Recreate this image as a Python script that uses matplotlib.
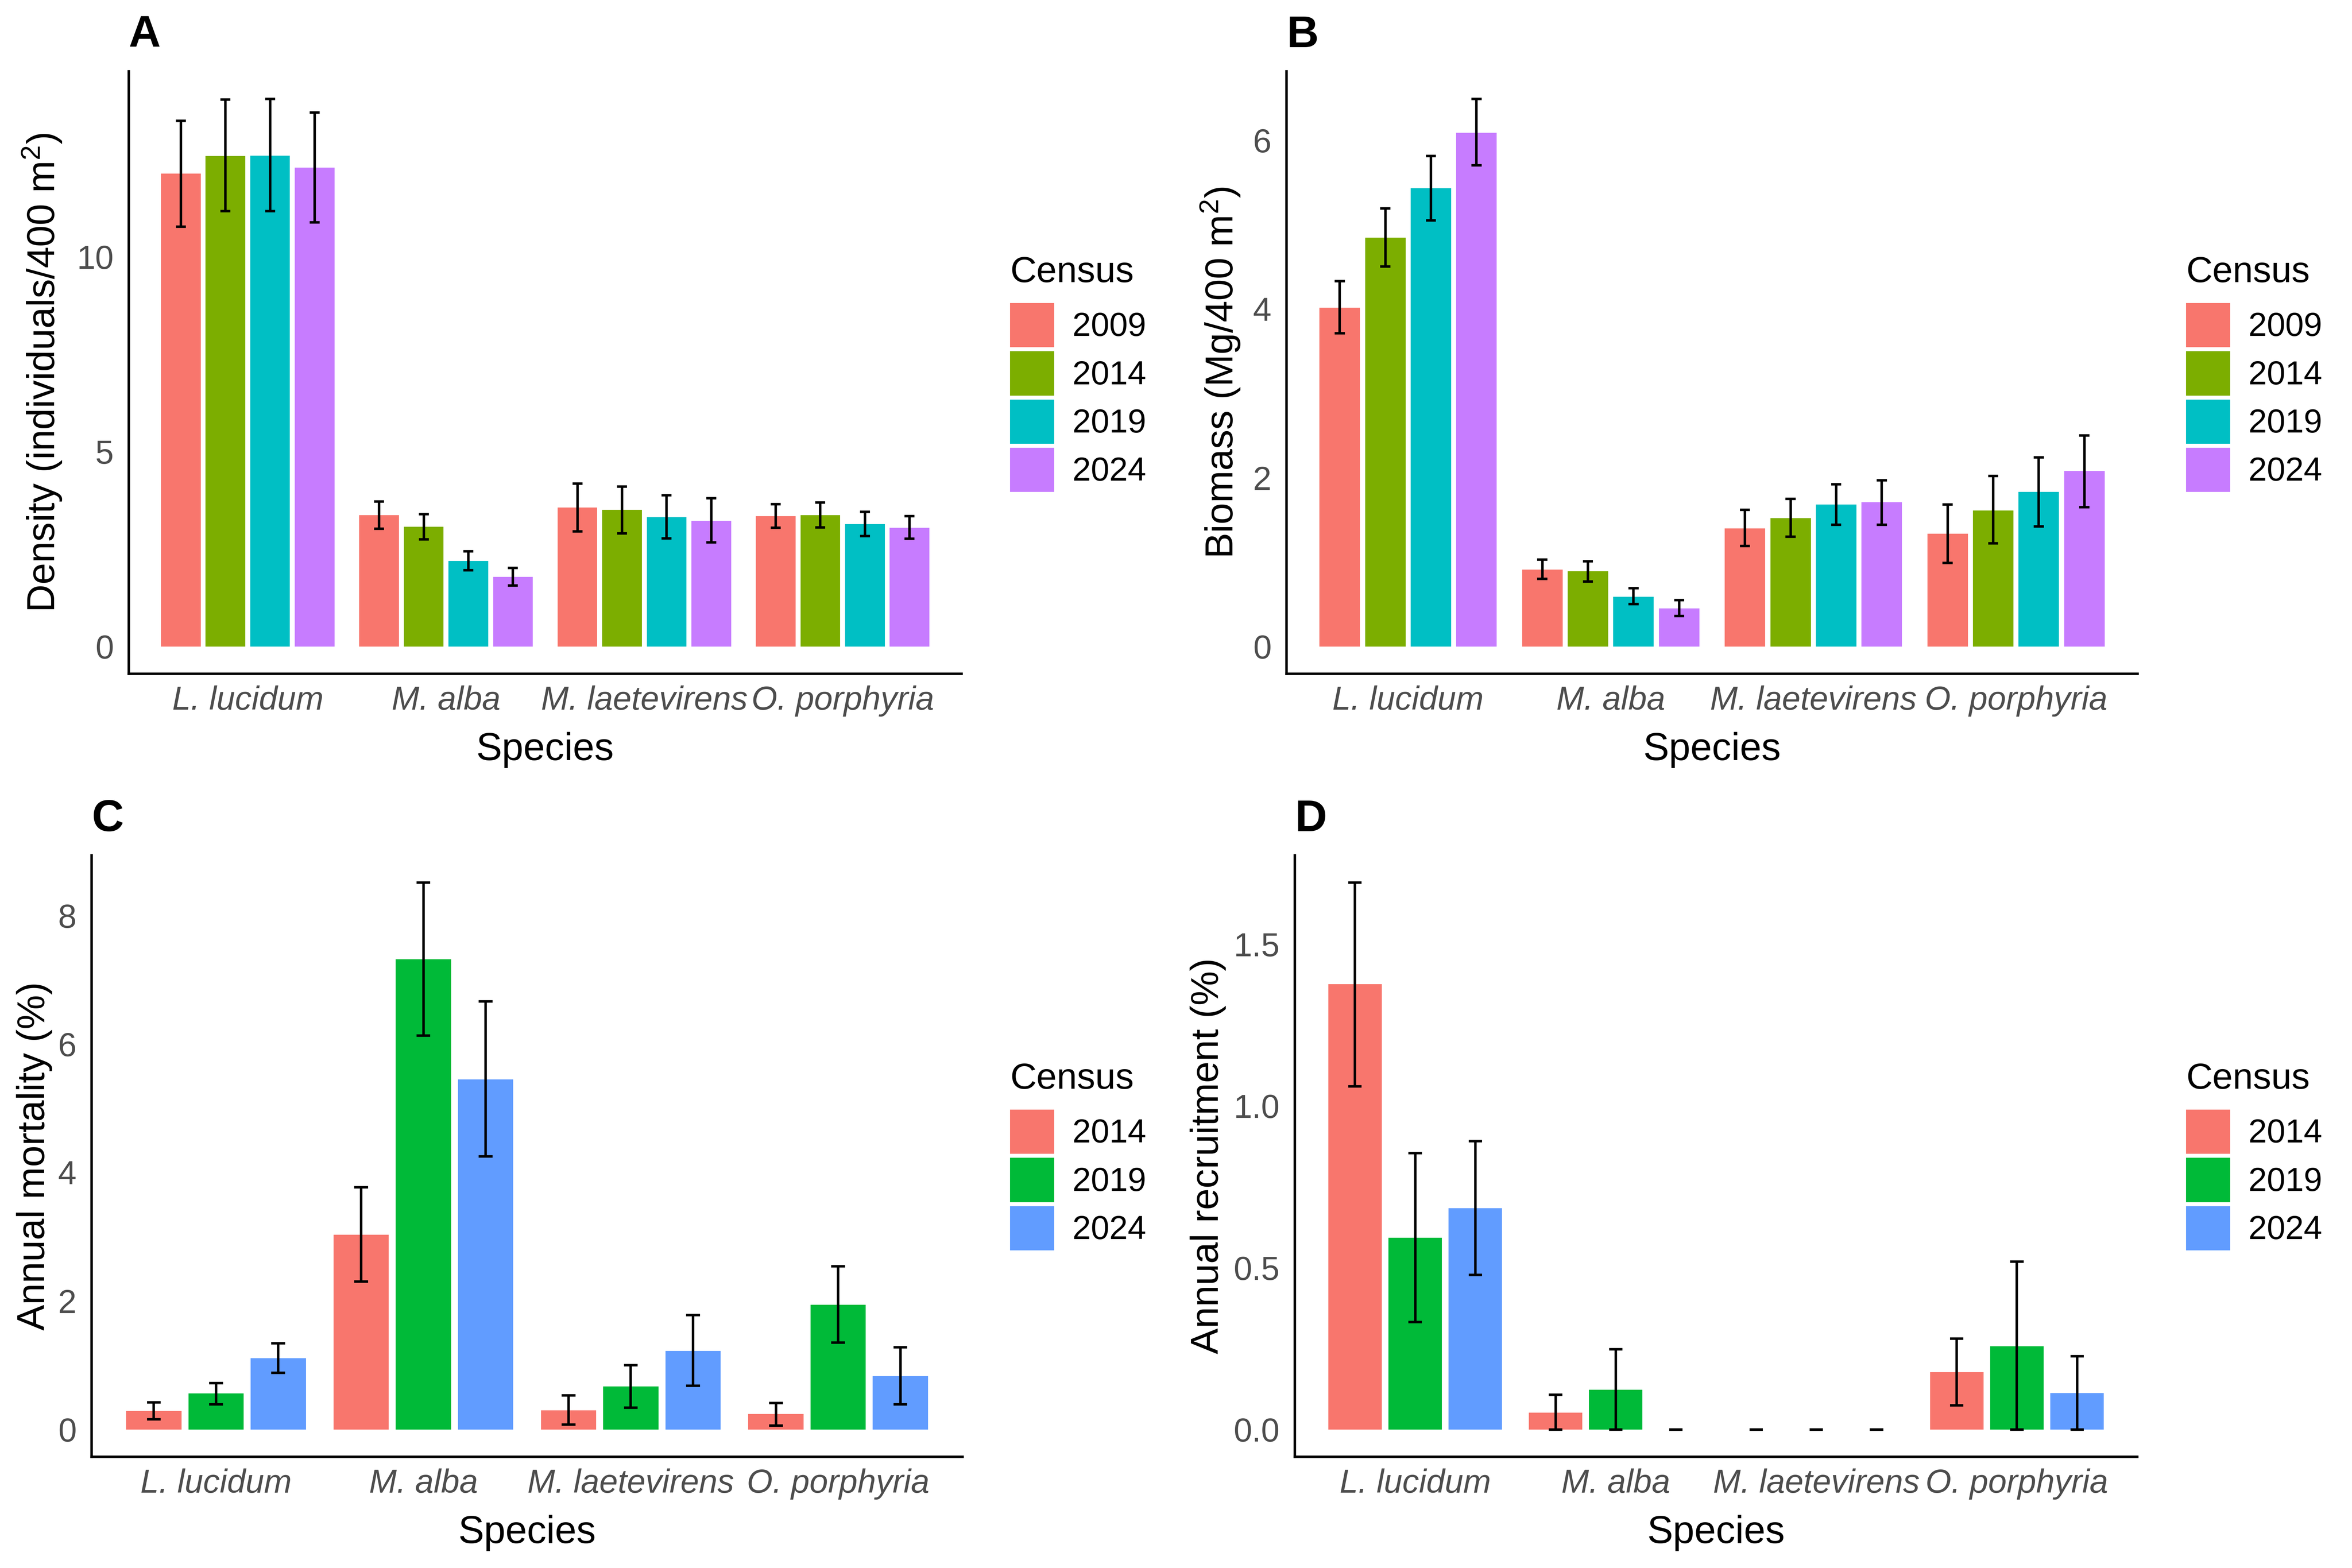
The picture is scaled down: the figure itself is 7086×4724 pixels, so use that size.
import matplotlib
matplotlib.use("Agg")
import matplotlib.pyplot as plt
from matplotlib.patches import Patch
import numpy as np

plt.rcParams['font.family'] = ['Liberation Sans', 'DejaVu Sans']
plt.rcParams['mathtext.fontset'] = 'custom'
plt.rcParams['mathtext.rm'] = 'Liberation Sans'
plt.rcParams['mathtext.it'] = 'Liberation Sans:italic'

# ---------------- data ----------------
species = ["L. lucidum", "M. alba", "M. laetevirens", "O. porphyria"]
census_ab = ["2009", "2014", "2019", "2024"]
census_cd = ["2014", "2019", "2024"]
colors_ab = ["#F8766D", "#7CAE00", "#00BFC4", "#C77CFF"]
colors_cd = ["#F8766D", "#00BA38", "#619CFF"]

# rows = census, columns = species
density_mean = [[12.13, 3.37, 3.56, 3.34],
                [12.58, 3.07, 3.50, 3.37],
                [12.59, 2.19, 3.32, 3.14],
                [12.28, 1.78, 3.22, 3.04]]
density_lo = [[10.77, 3.02, 2.95, 3.04],
              [11.17, 2.75, 2.90, 3.05],
              [11.17, 1.95, 2.77, 2.83],
              [10.88, 1.56, 2.67, 2.76]]
density_hi = [[13.48, 3.72, 4.18, 3.65],
              [14.03, 3.39, 4.10, 3.69],
              [14.05, 2.44, 3.88, 3.45],
              [13.70, 2.01, 3.80, 3.34]]

biomass_mean = [[4.015, 0.91, 1.40, 1.335],
                [4.845, 0.89, 1.52, 1.61],
                [5.43, 0.59, 1.68, 1.83],
                [6.085, 0.45, 1.71, 2.08]]
biomass_lo = [[3.71, 0.80, 1.19, 0.99],
              [4.50, 0.77, 1.30, 1.22],
              [5.05, 0.50, 1.44, 1.42],
              [5.70, 0.36, 1.44, 1.65]]
biomass_hi = [[4.33, 1.03, 1.62, 1.68],
              [5.19, 1.01, 1.75, 2.02],
              [5.81, 0.69, 1.92, 2.24],
              [6.49, 0.55, 1.97, 2.50]]

mortality_mean = [[0.29, 3.03, 0.30, 0.24],
                  [0.56, 7.32, 0.67, 1.94],
                  [1.11, 5.45, 1.22, 0.83]]
mortality_lo = [[0.16, 2.30, 0.075, 0.06],
                [0.39, 6.13, 0.34, 1.35],
                [0.88, 4.25, 0.68, 0.39]]
mortality_hi = [[0.42, 3.77, 0.53, 0.41],
                [0.72, 8.51, 1.00, 2.54],
                [1.34, 6.66, 1.78, 1.28]]

recruit_mean = [[1.376, 0.052, 0.0, 0.177],
                [0.593, 0.123, 0.0, 0.257],
                [0.684, 0.0, 0.0, 0.112]]
recruit_lo = [[1.06, 0.0, 0.0, 0.075],
              [0.332, 0.0, 0.0, 0.0],
              [0.478, 0.0, 0.0, 0.0]]
recruit_hi = [[1.69, 0.107, 0.0, 0.281],
              [0.854, 0.248, 0.0, 0.519],
              [0.891, 0.0, 0.0, 0.226]]

# ---------------- figure ----------------
W, H, DPI = 7086, 4724, 600
fig = plt.figure(figsize=(W / DPI, H / DPI), dpi=DPI)

def px_axes(left, right, top, bottom):
    return fig.add_axes([left / W, 1 - bottom / H, (right - left) / W, (bottom - top) / H])

TICK_GRAY = "#4D4D4D"
LW = 0.9

def panel(ax, tag, means, los, his, censuses, colors, ylabel, yticks, yfmt,
          ylabelpad, leg_x, leg_top):
    means = np.array(means); los = np.array(los); his = np.array(his)
    n = len(censuses)
    x = np.arange(1, len(species) + 1)
    dodge = 0.9 / n
    bw = 0.8 / n
    cw = 0.2 / n
    for i in range(n):
        xi = x - 0.45 + dodge * (i + 0.5)
        ax.bar(xi, means[i], width=bw, color=colors[i], linewidth=0, zorder=2)
        ax.vlines(xi, los[i], his[i], color="black", linewidth=LW, zorder=3)
        ax.hlines(los[i], xi - cw / 2, xi + cw / 2, color="black", linewidth=LW, zorder=3)
        ax.hlines(his[i], xi - cw / 2, xi + cw / 2, color="black", linewidth=LW, zorder=3)
    lo = min(0.0, los.min()); hi = max(his.max(), means.max())
    span = hi - lo
    ax.set_ylim(lo - 0.05 * span, hi + 0.05 * span)
    ax.set_xlim(0.4, len(species) + 0.6)
    ax.set_xticks(x)
    ax.set_xticklabels(species, fontstyle="italic")
    ax.set_yticks(yticks)
    ax.set_yticklabels([yfmt.format(v) for v in yticks])
    ax.tick_params(axis="both", length=0, labelsize=12, labelcolor=TICK_GRAY)
    ax.tick_params(axis="y", pad=5.5)
    ax.tick_params(axis="x", pad=4.2)
    for s in ["top", "right"]:
        ax.spines[s].set_visible(False)
    for s in ["left", "bottom"]:
        ax.spines[s].set_linewidth(LW)
    ax.set_xlabel("Species", fontsize=14, labelpad=5.5)
    ax.set_ylabel(ylabel, fontsize=14, labelpad=ylabelpad)
    ax.set_title(tag, loc="left", fontsize=16, fontweight="bold", pad=8.8)
    handles = [Patch(facecolor=c, edgecolor="none") for c in colors]
    leg = fig.legend(handles, censuses, title="Census", loc="upper left",
                     bbox_to_anchor=(leg_x / W, 1 - leg_top / H),
                     bbox_transform=fig.transFigure, frameon=False,
                     fontsize=12, title_fontsize=13.2, alignment="left",
                     handlelength=1.33, handleheight=1.674, labelspacing=0.12,
                     handletextpad=0.55, borderpad=0, borderaxespad=0)
    leg._legend_box.sep = 4.8
    return ax

axA = px_axes(388, 2897, 215, 2030)
panel(axA, "A", density_mean, density_lo, density_hi, census_ab, colors_ab,
      r"Density (individuals/400 m$^{2}$)", [0, 5, 10], "{:g}", 4.8, 3043, 771)

axB = px_axes(3876, 6440, 215, 2030)
panel(axB, "B", biomass_mean, biomass_lo, biomass_hi, census_ab, colors_ab,
      r"Biomass (Mg/400 m$^{2}$)", [0, 2, 4, 6], "{:g}", 4.0, 6586, 771)

axC = px_axes(276, 2900, 2577, 4389)
panel(axC, "C", mortality_mean, mortality_lo, mortality_hi, census_cd, colors_cd,
      "Annual mortality (%)", [0, 2, 4, 6, 8], "{:g}", 2.0, 3043, 3201)

axD = px_axes(3901, 6439, 2577, 4389)
panel(axD, "D", recruit_mean, recruit_lo, recruit_hi, census_cd, colors_cd,
      "Annual recruitment (%)", [0.0, 0.5, 1.0, 1.5], "{:.1f}", 2.6, 6586, 3201)

fig.savefig("out.png", dpi=DPI, facecolor="white")
